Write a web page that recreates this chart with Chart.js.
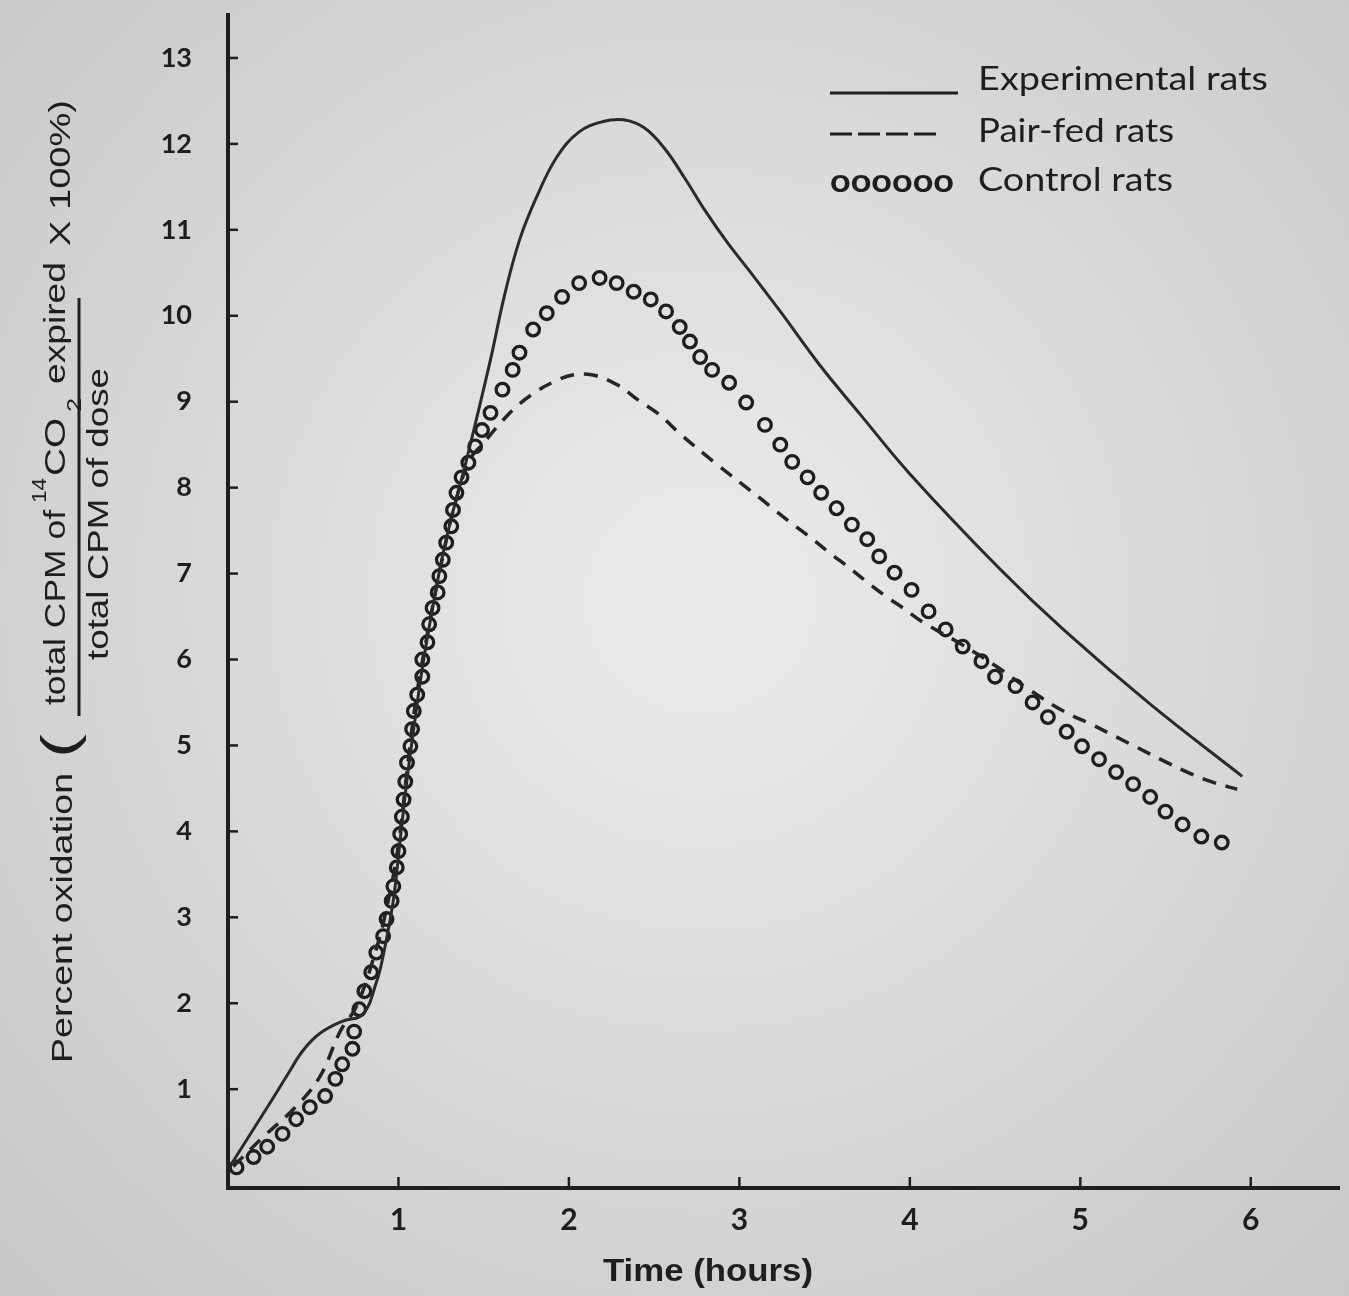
<!DOCTYPE html>
<html>
<head>
<meta charset="utf-8">
<script src="https://cdn.jsdelivr.net/npm/chart.js@4.4.1/dist/chart.umd.min.js"></script>
<style>
  html, body { margin: 0; padding: 0; background: #dcdcda; }
  #wrap { width: 1349px; height: 1296px; }
</style>
</head>
<body>
<div id="wrap"><canvas id="myChart" width="1349" height="1296"></canvas></div>
<script>
// tick labels
const xTicks = [1, 2, 3, 4, 5, 6];
const yTicks = [1, 2, 3, 4, 5, 6, 7, 8, 9, 10, 11, 12, 13];

// Experimental rats (solid line)
const expTime = [0.02, 0.25, 0.35, 0.44, 0.54, 0.67, 0.79, 0.87, 0.91, 0.97, 1.01, 1.05, 1.09, 1.14, 1.20, 1.28, 1.40, 1.54, 1.62, 1.71, 1.81, 1.93, 2.06, 2.20, 2.32, 2.44, 2.56, 2.68, 2.80, 2.93, 3.06, 3.24, 3.47, 3.71, 4.00, 4.53, 4.90, 5.41, 5.95];
const expPct = [0.13, 0.85, 1.17, 1.45, 1.65, 1.79, 1.87, 2.24, 2.55, 3.2, 3.9, 4.6, 5.2, 5.9, 6.6, 7.4, 8.33, 9.49, 10.22, 10.88, 11.38, 11.85, 12.14, 12.26, 12.28, 12.19, 11.95, 11.60, 11.22, 10.85, 10.52, 10.05, 9.43, 8.85, 8.16, 7.05, 6.35, 5.48, 4.64];

// Pair-fed rats (dashed line)
const pairTime = [0.03, 0.21, 0.40, 0.54, 0.66, 0.75, 0.85, 0.93, 1.00, 1.05, 1.10, 1.17, 1.25, 1.33, 1.42, 1.50, 1.58, 1.69, 1.81, 1.91, 2.02, 2.14, 2.28, 2.42, 2.53, 2.65, 2.85, 3.12, 3.20, 3.31, 3.43, 3.53, 3.65, 3.75, 3.87, 3.96, 4.08, 4.30, 4.50, 4.70, 4.90, 5.07, 5.21, 5.33, 5.51, 5.66, 5.78, 5.92];
const pairPct = [0.1, 0.45, 0.80, 1.15, 1.68, 1.95, 2.5, 3.1, 3.85, 4.7, 5.5, 6.3, 7.1, 7.8, 8.33, 8.52, 8.71, 8.94, 9.12, 9.23, 9.31, 9.31, 9.20, 9.0, 8.85, 8.63, 8.30, 7.88, 7.75, 7.58, 7.40, 7.24, 7.06, 6.90, 6.72, 6.60, 6.43, 6.18, 5.93, 5.65, 5.40, 5.24, 5.10, 4.98, 4.80, 4.66, 4.57, 4.49];

// Control rats (circles)
const ctrlTime = [0.05, 0.15, 0.23, 0.32, 0.40, 0.48, 0.57, 0.63, 0.67, 0.73, 0.74, 0.77, 0.80, 0.84, 0.87, 0.91, 0.93, 0.96, 0.97, 0.99, 1.00, 1.01, 1.02, 1.03, 1.04, 1.05, 1.07, 1.08, 1.09, 1.11, 1.14, 1.14, 1.17, 1.18, 1.20, 1.23, 1.24, 1.26, 1.28, 1.31, 1.32, 1.34, 1.37, 1.41, 1.45, 1.49, 1.54, 1.61, 1.67, 1.71, 1.79, 1.87, 1.96, 2.06, 2.18, 2.28, 2.38, 2.48, 2.57, 2.65, 2.71, 2.77, 2.84, 2.94, 3.04, 3.15, 3.24, 3.31, 3.40, 3.48, 3.57, 3.66, 3.75, 3.82, 3.91, 4.01, 4.11, 4.21, 4.31, 4.42, 4.50, 4.62, 4.72, 4.81, 4.92, 5.01, 5.11, 5.21, 5.31, 5.41, 5.50, 5.60, 5.71, 5.83];
const ctrlPct = [0.09, 0.21, 0.33, 0.48, 0.65, 0.79, 0.92, 1.12, 1.29, 1.47, 1.67, 1.93, 2.14, 2.36, 2.59, 2.78, 2.98, 3.19, 3.36, 3.58, 3.77, 3.97, 4.17, 4.37, 4.58, 4.80, 4.99, 5.19, 5.40, 5.59, 5.80, 6.00, 6.20, 6.41, 6.60, 6.78, 6.97, 7.16, 7.36, 7.55, 7.74, 7.94, 8.12, 8.29, 8.48, 8.67, 8.87, 9.14, 9.37, 9.57, 9.84, 10.03, 10.22, 10.38, 10.44, 10.38, 10.28, 10.19, 10.05, 9.87, 9.70, 9.52, 9.37, 9.22, 8.99, 8.73, 8.50, 8.30, 8.12, 7.94, 7.76, 7.57, 7.40, 7.20, 7.01, 6.81, 6.56, 6.35, 6.15, 5.98, 5.80, 5.69, 5.50, 5.33, 5.16, 4.99, 4.84, 4.69, 4.55, 4.40, 4.23, 4.08, 3.94, 3.87];

const INK = '#1e1e1e';
const pts = (xs, ys) => xs.map((x, i) => ({ x: x, y: ys[i] }));

// text squeezed/stretched to a given length (scan font is narrow)
function fitText(c, text, font, x, y, len, rotate) {
    c.save();
    c.font = font;
    c.fillStyle = INK;
    c.textBaseline = 'middle';
    c.textAlign = 'left';
    c.translate(x, y);
    if (rotate) c.rotate(-Math.PI / 2);
    const w = c.measureText(text).width;
    c.scale(len / w, 1);
    c.fillText(text, 0, 0);
    c.restore();
}

const paperPlugin = {
    id: 'paper',
    beforeDraw(chart) {
        const c = chart.ctx;
        const g = c.createRadialGradient(700, 600, 100, 700, 600, 950);
        g.addColorStop(0, '#e8e8e6');
        g.addColorStop(1, '#c8c8c6');
        c.save();
        c.fillStyle = g;
        c.fillRect(0, 0, chart.width, chart.height);
        c.restore();
    }
};

const decorPlugin = {
    id: 'decor',
    afterDraw(chart) {
        const c = chart.ctx;
        const xs = chart.scales.x, ys = chart.scales.y;
        const area = chart.chartArea;

        // inward tick marks
        c.save();
        c.strokeStyle = INK;
        c.lineWidth = 2.5;
        xTicks.forEach(v => {
            const px = xs.getPixelForValue(v);
            c.beginPath(); c.moveTo(px, area.bottom); c.lineTo(px, area.bottom - 11); c.stroke();
        });
        yTicks.forEach(v => {
            const py = ys.getPixelForValue(v);
            c.beginPath(); c.moveTo(area.left, py); c.lineTo(area.left + 10, py); c.stroke();
        });
        c.restore();

        // y axis title, drawn in pieces (fraction)
        const fam = '"Liberation Sans Narrow", "Liberation Sans", Arial, sans-serif';
        const f = '30px ' + fam;
        const fs = '21px ' + fam;
        fitText(c, 'Percent oxidation', f, 64, 1063, 290, true);
        fitText(c, '(', '50px ' + fam, 62, 758, 24, true);
        fitText(c, 'total CPM of', f, 57, 705, 195, true);
        fitText(c, '14', fs, 40, 503, 25, true);
        fitText(c, 'CO', f, 57, 476, 58, true);
        fitText(c, '2', fs, 75, 412, 14, true);
        fitText(c, 'expired', f, 57, 384, 122, true);
        c.save();
        c.strokeStyle = INK;
        c.lineWidth = 3;
        c.beginPath(); c.moveTo(79, 716); c.lineTo(79, 298); c.stroke();
        c.restore();
        fitText(c, 'total CPM of dose', f, 100, 660, 292, true);
        fitText(c, 'X 100%)', f, 62, 246, 146, true);

        // x axis title
        fitText(c, 'Time (hours)', 'bold 32px ' + fam, 603, 1272, 210, false);

        // legend, top right
        c.save();
        c.strokeStyle = INK;
        c.lineWidth = 3;
        c.beginPath(); c.moveTo(830, 93); c.lineTo(958, 93); c.stroke();
        c.setLineDash([22, 6]);
        c.beginPath(); c.moveTo(830, 134); c.lineTo(938, 134); c.stroke();
        c.restore();
        const lf = '32px Lato, "DejaVu Sans", sans-serif';
        fitText(c, 'oooooo', 'bold 32px Lato, "DejaVu Sans", sans-serif', 830, 182, 124, false);
        fitText(c, 'Experimental rats', lf, 978, 80, 290, false);
        fitText(c, 'Pair-fed rats', lf, 978, 132, 196, false);
        fitText(c, 'Control rats', lf, 978, 181, 195, false);
    }
};

const ctx = document.getElementById('myChart').getContext('2d');

const chart = new Chart(ctx, {
    type: 'line',
    data: {
        datasets: [
            {
                label: 'Experimental rats',
                data: pts(expTime, expPct),
                borderColor: '#2a2a2a',
                borderWidth: 3,
                pointRadius: 0,
                tension: 0.4,
                fill: false
            },
            {
                label: 'Pair-fed rats',
                data: pts(pairTime, pairPct),
                borderColor: '#252525',
                borderWidth: 3.5,
                borderDash: [14, 10],
                pointRadius: 0,
                tension: 0.4,
                fill: false
            },
            {
                label: 'Control rats',
                data: pts(ctrlTime, ctrlPct),
                showLine: false,
                pointStyle: 'circle',
                pointRadius: 6.3,
                pointBorderWidth: 3.3,
                pointBorderColor: INK,
                pointBackgroundColor: 'rgba(0,0,0,0)'
            }
        ]
    },
    options: {
        responsive: false,
        animation: false,
        layout: { padding: { left: 0, top: 15, right: 9, bottom: 0 } },
        plugins: {
            legend: { display: false },
            tooltip: { enabled: false }
        },
        scales: {
            x: {
                type: 'linear',
                min: 0,
                max: 6.52,
                afterBuildTicks: (s) => { s.ticks = xTicks.map(v => ({ value: v })); },
                afterFit: (s) => { s.height = 108; s.paddingLeft = 0; s.paddingRight = 0; },
                grid: { display: true, drawOnChartArea: false, drawTicks: false },
                border: { display: true, width: 4, color: INK },
                ticks: {
                    color: INK,
                    padding: 14,
                    maxRotation: 0,
                    font: { family: 'Lato, "DejaVu Sans", sans-serif', size: 30, weight: 'bold' }
                },
                title: { display: false, text: 'Time (hours)' }
            },
            y: {
                type: 'linear',
                min: -0.15,
                max: 13.5,
                afterBuildTicks: (s) => { s.ticks = yTicks.map(v => ({ value: v })); },
                afterFit: (s) => { s.width = 228; s.paddingTop = 0; s.paddingBottom = 0; },
                grid: { display: true, drawOnChartArea: false, drawTicks: false },
                border: { display: true, width: 4, color: INK },
                ticks: {
                    color: INK,
                    padding: 36,
                    font: { family: 'Lato, "DejaVu Sans", sans-serif', size: 27, weight: 'bold' }
                }
            }
        }
    },
    plugins: [paperPlugin, decorPlugin]
});
</script>
</body>
</html>
